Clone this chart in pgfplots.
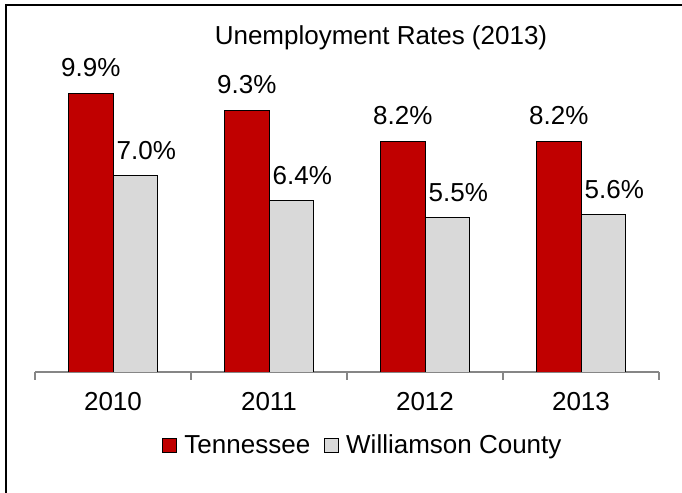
\documentclass[border=0pt]{standalone}
\usepackage{pgfplots}
\pgfplotsset{compat=1.18}
\usepackage{fontspec}
\setmainfont{Liberation Sans}

\definecolor{tnred}{HTML}{C00000}
\definecolor{wcgray}{HTML}{D9D9D9}
\definecolor{axgray}{HTML}{868686}

\newcommand{\chartfont}{\fontsize{26bp}{30bp}\selectfont}

\begin{document}
\begin{tikzpicture}
\useasboundingbox (0,0) rectangle (682bp,493bp);
% frame (only left and top edges fall inside the picture)
\draw[line width=2bp] (6bp,0) -- (6bp,487.5bp) -- (682bp,487.5bp);
\node[anchor=base, font=\chartfont] at (381bp,448bp) {Unemployment Rates (2013)};
\begin{axis}[
    at={(35bp,121bp)}, anchor=south west,
    scale only axis,
    width=624bp, height=309.4bp,
    ybar=0pt, bar width=44.5bp,
    ymin=0, ymax=11,
    xmin=-0.5, xmax=3.5,
    axis y line=none,
    axis x line*=bottom,
    x axis line style={draw=axgray, line width=1.5bp, -},
    xtick={0,1,2,3},
    xticklabels={2010,2011,2012,2013},
    major tick length=0pt,
    minor xtick={-0.5,0.5,1.5,2.5,3.5},
    minor tick length=8bp,
    tick align=outside,
    minor tick style={draw=axgray, line width=1.5bp},
    xticklabel style={font=\chartfont, yshift=-17bp},
    point meta=explicit symbolic,
    nodes near coords={\pgfplotspointmeta\%},
    every node near coord/.append style={font=\chartfont, text=black,
        inner sep=0pt},
    legend columns=2,
    legend style={draw=none, fill=none, font=\chartfont,
        at={(0.5256,-0.236)}, anchor=center,
        /tikz/every even column/.append style={column sep=12bp}},
    legend image code/.code={\draw[#1] (0bp,-7bp) rectangle (14bp,7bp);
        \path (19bp,0bp);},
]
\addplot[fill=tnred, draw=black, line width=1bp,
    every node near coord/.append style={yshift=16.5bp}]
    coordinates {(0,9.9) [9.9] (1,9.3) [9.3] (2,8.2) [8.2] (3,8.2) [8.2]};
\addlegendentry{Tennessee}
\addplot[fill=wcgray, draw=black, line width=1bp,
    every node near coord/.append style={xshift=11bp, yshift=15bp}]
    coordinates {(0,7.0) [7.0] (1,6.1) [6.4] (2,5.5) [5.5] (3,5.6) [5.6]};
\addlegendentry{Williamson County}
\end{axis}
\end{tikzpicture}
\end{document}
